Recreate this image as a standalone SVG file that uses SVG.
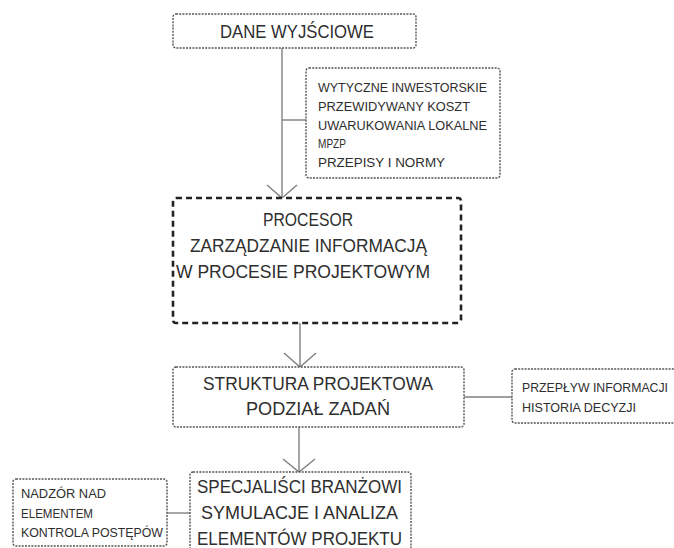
<svg xmlns="http://www.w3.org/2000/svg" width="674" height="548" viewBox="0 0 674 548">
<style>
.bg{fill:#fff}
.dot{fill:#fff;stroke:#555;stroke-width:1.4;stroke-dasharray:2 1.2}
.dash{fill:#fff;stroke:#222;stroke-width:2.6;stroke-dasharray:6 4}
.con{fill:none;stroke:#808080;stroke-width:1.4}
text{font-family:"Liberation Sans","DejaVu Sans",sans-serif;fill:#2e2e2e}
.big{font-size:19px}
.mid{font-size:13.5px}
.mid2{font-size:12.6px}
.sm{font-size:12px}
</style>
<rect class="bg" x="0" y="0" width="674" height="548"/>
<g id="connectors">
<line class="con" x1="282" y1="48" x2="282" y2="198"/>
<line class="con" x1="282" y1="120" x2="306" y2="120"/>
<polyline class="con" points="267,185 282,198 297,185"/>
<line class="con" x1="300" y1="323" x2="300" y2="367"/>
<polyline class="con" points="284,353 300,367 316,353"/>
<line class="con" x1="464" y1="397" x2="512" y2="397"/>
<line class="con" x1="299" y1="427" x2="299" y2="472"/>
<polyline class="con" points="283,459 299,472 315,459"/>
<line class="con" x1="167" y1="513" x2="190" y2="513"/>
</g>
<g id="dane">
<rect class="dot" x="173" y="14" width="243" height="34" rx="3"/>
<text class="big" x="220" y="38" textLength="154" lengthAdjust="spacingAndGlyphs">DANE WYJŚCIOWE</text>
</g>
<g id="wytyczne">
<rect class="dot" x="306" y="68" width="194" height="110" rx="3"/>
<text class="sm" x="318" y="92" textLength="169" lengthAdjust="spacingAndGlyphs">WYTYCZNE INWESTORSKIE</text>
<text class="sm" x="318" y="111" textLength="152" lengthAdjust="spacingAndGlyphs">PRZEWIDYWANY KOSZT</text>
<text class="sm" x="318" y="130" textLength="169" lengthAdjust="spacingAndGlyphs">UWARUKOWANIA LOKALNE</text>
<text class="sm" x="318" y="148" textLength="28" lengthAdjust="spacingAndGlyphs">MPZP</text>
<text class="sm" x="318" y="167" textLength="127" lengthAdjust="spacingAndGlyphs">PRZEPISY I NORMY</text>
</g>
<g id="procesor">
<rect class="dash" x="173" y="198" width="288" height="125" rx="3"/>
<text class="big" x="263" y="226" textLength="90" lengthAdjust="spacingAndGlyphs">PROCESOR</text>
<text class="big" x="190" y="252" textLength="237" lengthAdjust="spacingAndGlyphs">ZARZĄDZANIE INFORMACJĄ</text>
<text class="big" x="176" y="278" textLength="254" lengthAdjust="spacingAndGlyphs">W PROCESIE PROJEKTOWYM</text>
</g>
<g id="struktura">
<rect class="dot" x="173" y="367" width="291" height="60" rx="3"/>
<text class="big" x="203" y="390" textLength="230" lengthAdjust="spacingAndGlyphs">STRUKTURA PROJEKTOWA</text>
<text class="big" x="246" y="415" textLength="144" lengthAdjust="spacingAndGlyphs">PODZIAŁ ZADAŃ</text>
</g>
<g id="przeplyw">
<rect class="dot" x="512" y="369" width="175" height="54" rx="3"/>
<text class="mid2" x="522" y="392" textLength="146" lengthAdjust="spacingAndGlyphs">PRZEPŁYW INFORMACJI</text>
<text class="mid2" x="522" y="412" textLength="114" lengthAdjust="spacingAndGlyphs">HISTORIA DECYZJI</text>
</g>
<g id="specjalisci">
<rect class="dot" x="190" y="472" width="221" height="90" rx="3"/>
<text class="big" x="197" y="493" textLength="205" lengthAdjust="spacingAndGlyphs">SPECJALIŚCI BRANŻOWI</text>
<text class="big" x="201" y="519" textLength="197" lengthAdjust="spacingAndGlyphs">SYMULACJE I ANALIZA</text>
<text class="big" x="197" y="545" textLength="205" lengthAdjust="spacingAndGlyphs">ELEMENTÓW PROJEKTU</text>
</g>
<g id="nadzor">
<rect class="dot" x="13" y="479" width="154" height="67" rx="3"/>
<text class="mid" x="21" y="498" textLength="85" lengthAdjust="spacingAndGlyphs">NADZÓR NAD</text>
<text class="mid" x="21" y="518" textLength="72" lengthAdjust="spacingAndGlyphs">ELEMENTEM</text>
<text class="mid" x="21" y="537" textLength="142" lengthAdjust="spacingAndGlyphs">KONTROLA POSTĘPÓW</text>
</g>
</svg>
